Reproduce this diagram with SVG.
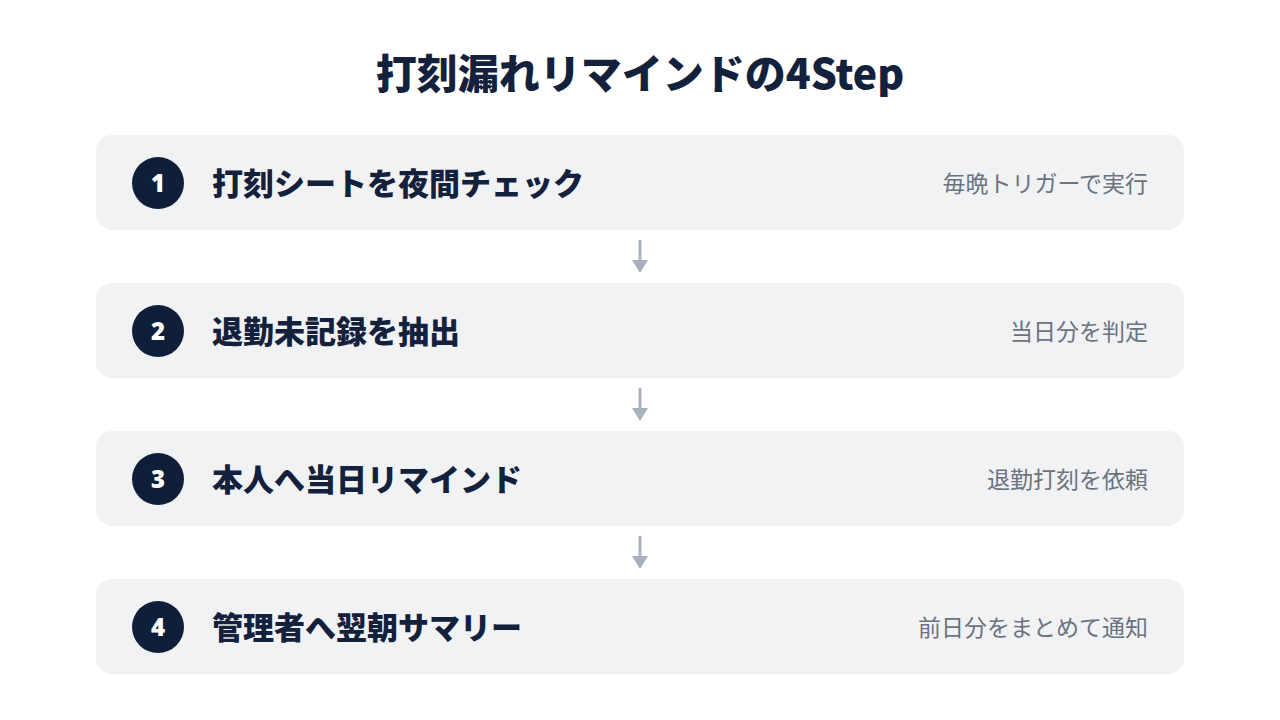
<svg xmlns="http://www.w3.org/2000/svg" width="1280" height="720" viewBox="0 0 1280 720">
<style>
.card{fill:#f1f2f4}
.num{fill:#0f1f3a}
.nt{font-family:"Noto Sans","Noto Sans CJK JP",sans-serif;font-weight:900;font-size:24px;fill:#fff;text-anchor:middle}
.tt{font-family:"Noto Sans CJK JP",sans-serif;font-weight:900;font-size:31px;fill:#14213d}
.st{font-family:"Noto Sans CJK JP",sans-serif;font-size:23px;fill:#6b7280;text-anchor:end}
.ar{stroke:#a9b1bf;stroke-width:3;fill:none}
</style>
<rect width="1280" height="720" fill="#fff"/>
<text x="640" y="89" text-anchor="middle" font-family="Noto Sans CJK JP,sans-serif" font-weight="900" font-size="41" fill="#14213d">打刻漏れリマインドの4Step</text>
<g id="connectors">
<path class="ar" d="M640 240V262"/><path d="M632 260H648L640 273Z" fill="#a9b1bf"/>
<path class="ar" d="M640 388V410"/><path d="M632 408H648L640 421Z" fill="#a9b1bf"/>
<path class="ar" d="M640 536V558"/><path d="M632 556H648L640 569Z" fill="#a9b1bf"/>
</g>
<g id="step1"><rect class="card" x="96" y="135" width="1088" height="95" rx="16"/><circle class="num" cx="158" cy="183" r="26"/><text class="nt" x="158" y="192">1</text><text class="tt" x="212" y="195">打刻シートを夜間チェック</text><text class="st" x="1148" y="192">毎晩トリガーで実行</text></g>
<g id="step2"><rect class="card" x="96" y="283" width="1088" height="95" rx="16"/><circle class="num" cx="158" cy="331" r="26"/><text class="nt" x="158" y="340">2</text><text class="tt" x="212" y="343">退勤未記録を抽出</text><text class="st" x="1148" y="340">当日分を判定</text></g>
<g id="step3"><rect class="card" x="96" y="431" width="1088" height="95" rx="16"/><circle class="num" cx="158" cy="479" r="26"/><text class="nt" x="158" y="488">3</text><text class="tt" x="212" y="491">本人へ当日リマインド</text><text class="st" x="1148" y="488">退勤打刻を依頼</text></g>
<g id="step4"><rect class="card" x="96" y="579" width="1088" height="95" rx="16"/><circle class="num" cx="158" cy="627" r="26"/><text class="nt" x="158" y="636">4</text><text class="tt" x="212" y="639">管理者へ翌朝サマリー</text><text class="st" x="1148" y="636">前日分をまとめて通知</text></g>
</svg>
